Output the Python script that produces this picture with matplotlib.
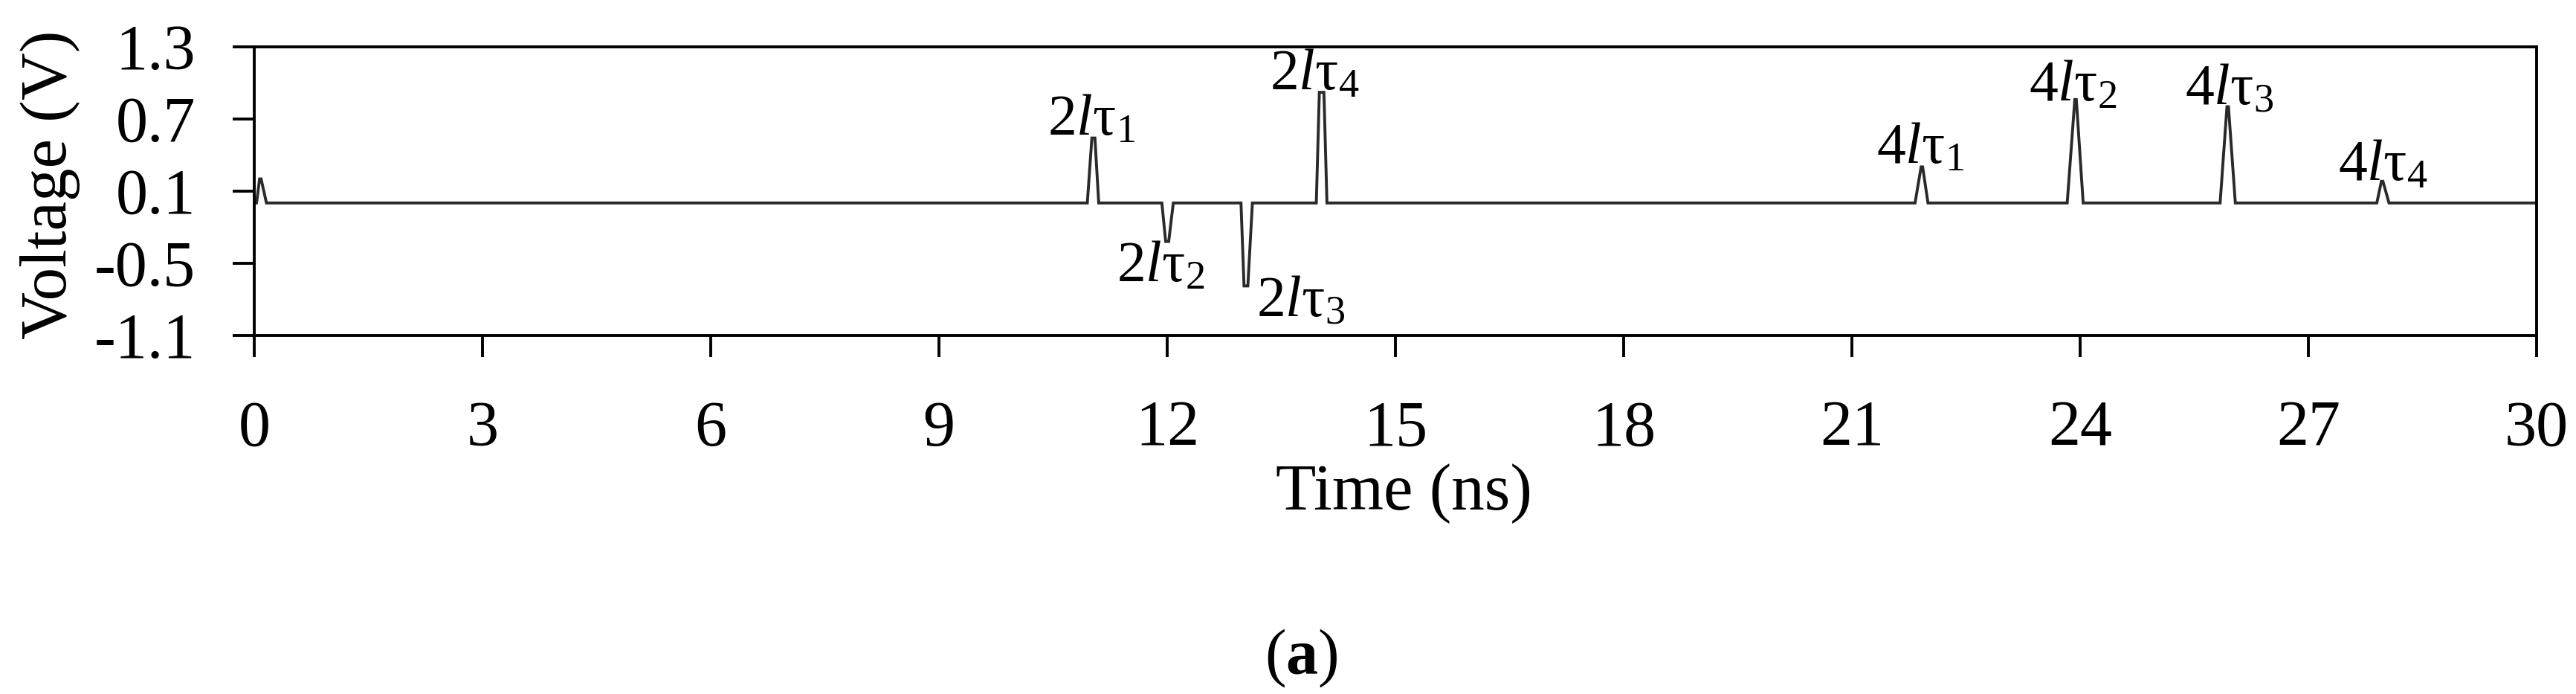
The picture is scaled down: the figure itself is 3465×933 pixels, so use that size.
import matplotlib
matplotlib.use("Agg")
import matplotlib.pyplot as plt

plt.rcParams['font.family'] = ['Liberation Serif', 'DejaVu Serif']
plt.rcParams['mathtext.fontset'] = 'custom'
plt.rcParams['mathtext.rm'] = 'Liberation Serif'
plt.rcParams['mathtext.it'] = 'Liberation Serif:italic'
plt.rcParams['mathtext.bf'] = 'Liberation Serif:bold'
plt.rcParams['axes.unicode_minus'] = False

# Waveform vertices (time in ns, voltage in V)
time_ns = [0.00, 0.03, 0.07, 0.09, 0.16,
           10.95, 11.01, 11.05, 11.10,
           11.93, 11.98, 12.02, 12.08,
           12.97, 13.01, 13.06, 13.12,
           13.96, 14.00, 14.06, 14.10,
           21.83, 21.91, 21.93, 22.00,
           23.83, 23.93, 23.95, 24.04,
           25.84, 25.93, 25.95, 26.04,
           27.90, 27.96, 27.98, 28.06,
           30.00]
voltage = [0.00, 0.00, 0.20, 0.20, 0.00,
           0.00, 0.54, 0.54, 0.00,
           0.00, -0.32, -0.32, 0.00,
           0.00, -0.69, -0.69, 0.00,
           0.00, 0.92, 0.92, 0.00,
           0.00, 0.30, 0.30, 0.00,
           0.00, 0.86, 0.86, 0.00,
           0.00, 0.80, 0.80, 0.00,
           0.00, 0.18, 0.18, 0.00,
           0.00]

# Peak annotations: text, x, y (baseline, left aligned)
ann_text = [r'2$\mathit{l}\mathrm{\tau}_{1}$', r'2$\mathit{l}\mathrm{\tau}_{2}$',
            r'2$\mathit{l}\mathrm{\tau}_{3}$', r'2$\mathit{l}\mathrm{\tau}_{4}$',
            r'4$\mathit{l}\mathrm{\tau}_{1}$', r'4$\mathit{l}\mathrm{\tau}_{2}$',
            r'4$\mathit{l}\mathrm{\tau}_{3}$', r'4$\mathit{l}\mathrm{\tau}_{4}$']
ann_x = [10.43, 11.34, 13.17, 13.35, 21.32, 23.33, 25.38, 27.39]
ann_y = [0.567, -0.65, -0.948, 0.946, 0.33, 0.85, 0.82, 0.19]

x_ticks = [0, 3, 6, 9, 12, 15, 18, 21, 24, 27, 30]
y_ticks = [-1.1, -0.5, 0.1, 0.7, 1.3]
y_tick_labels = ['-1.1', '-0.5', '0.1', '0.7', '1.3']

W, H = 3465, 933
fig = plt.figure(figsize=(W / 100, H / 100), dpi=100)
ax = fig.add_axes([342 / W, 1 - 450.7 / H, (3412 - 342) / W, (450.7 - 62.7) / H])

ax.plot(time_ns, voltage, color='#2a2a2a', lw=2.8, solid_joinstyle='miter')

ax.set_xlim(0, 30)
ax.set_ylim(-1.1, 1.3)
ax.set_xticks(x_ticks)
ax.set_xticklabels([str(v) for v in x_ticks])
ax.set_yticks(y_ticks)
ax.set_yticklabels(y_tick_labels)

for s in ax.spines.values():
    s.set_linewidth(2.8)
    s.set_color('black')
ax.tick_params(axis='both', direction='out', length=21, width=2.8,
               labelsize=62, colors='black')
ax.tick_params(axis='x', pad=42)
ax.tick_params(axis='y', pad=36)

for t, x, y in zip(ann_text, ann_x, ann_y):
    ax.text(x, y, t, fontsize=56, ha='left', va='baseline')

fig.text(68 / W, 1 - 248 / H, 'Voltage (V)', rotation=90, fontsize=64,
         ha='center', va='center')
fig.text(1888 / W, 1 - 685 / H, 'Time (ns)', fontsize=64,
         ha='center', va='baseline')
fig.text(1750 / W, 1 - 885 / H, r'($\mathbf{a}$)', fontsize=62,
         ha='center', va='center')

fig.savefig('out.png', dpi=100, facecolor='white')
